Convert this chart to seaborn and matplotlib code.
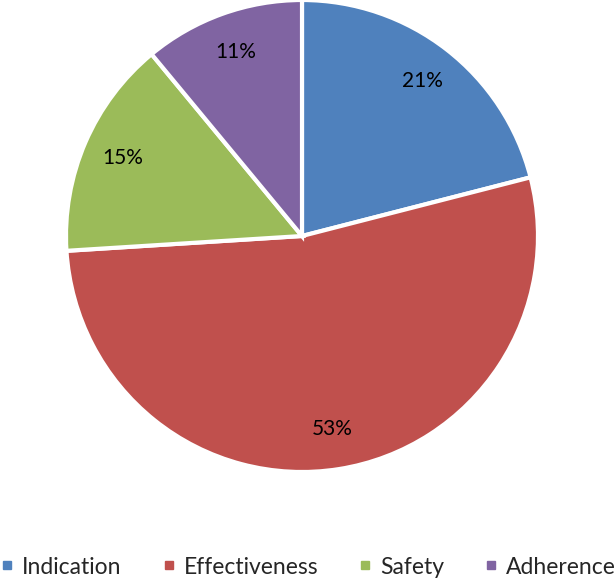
import matplotlib
matplotlib.use("Agg")
import matplotlib.pyplot as plt
import seaborn as sns
from matplotlib.lines import Line2D

sns.set_theme(style="white")
plt.rcParams['font.family'] = ['Lato', 'DejaVu Sans']

categories = ["Indication", "Effectiveness", "Safety", "Adherence"]
values = [21, 53, 15, 11]
colors = ["#4F81BD", "#C0504D", "#9BBB59", "#8064A2"]

W, H = 615, 581
fig = plt.figure(figsize=(W / 100, H / 100), dpi=100)
cx, cy, r = 302, 236, 236
ax = fig.add_axes([(cx - r) / W, (H - cy - r) / H, 2 * r / W, 2 * r / H])
ax.pie(values, colors=colors, startangle=90, counterclock=False,
       autopct="%1.0f%%", pctdistance=0.83, radius=1,
       wedgeprops=dict(edgecolor="white", linewidth=3),
       textprops=dict(fontsize=15, color="black"))
ax.set_xlim(-1.0, 1.0)
ax.set_ylim(-1.0, 1.0)
ax.axis("off")

handles = [Line2D([0], [0], marker="s", linestyle="none", markersize=6,
                  markerfacecolor=c, markeredgecolor=c) for c in colors]
fig.legend(handles, categories, loc="center", bbox_to_anchor=(0.5, 1 - 567 / H),
           ncol=4, frameon=False, fontsize=16.5, handletextpad=0.3,
           columnspacing=1.7, handlelength=0.7, borderpad=0.1, borderaxespad=0)

fig.savefig("out.png", dpi=100)
